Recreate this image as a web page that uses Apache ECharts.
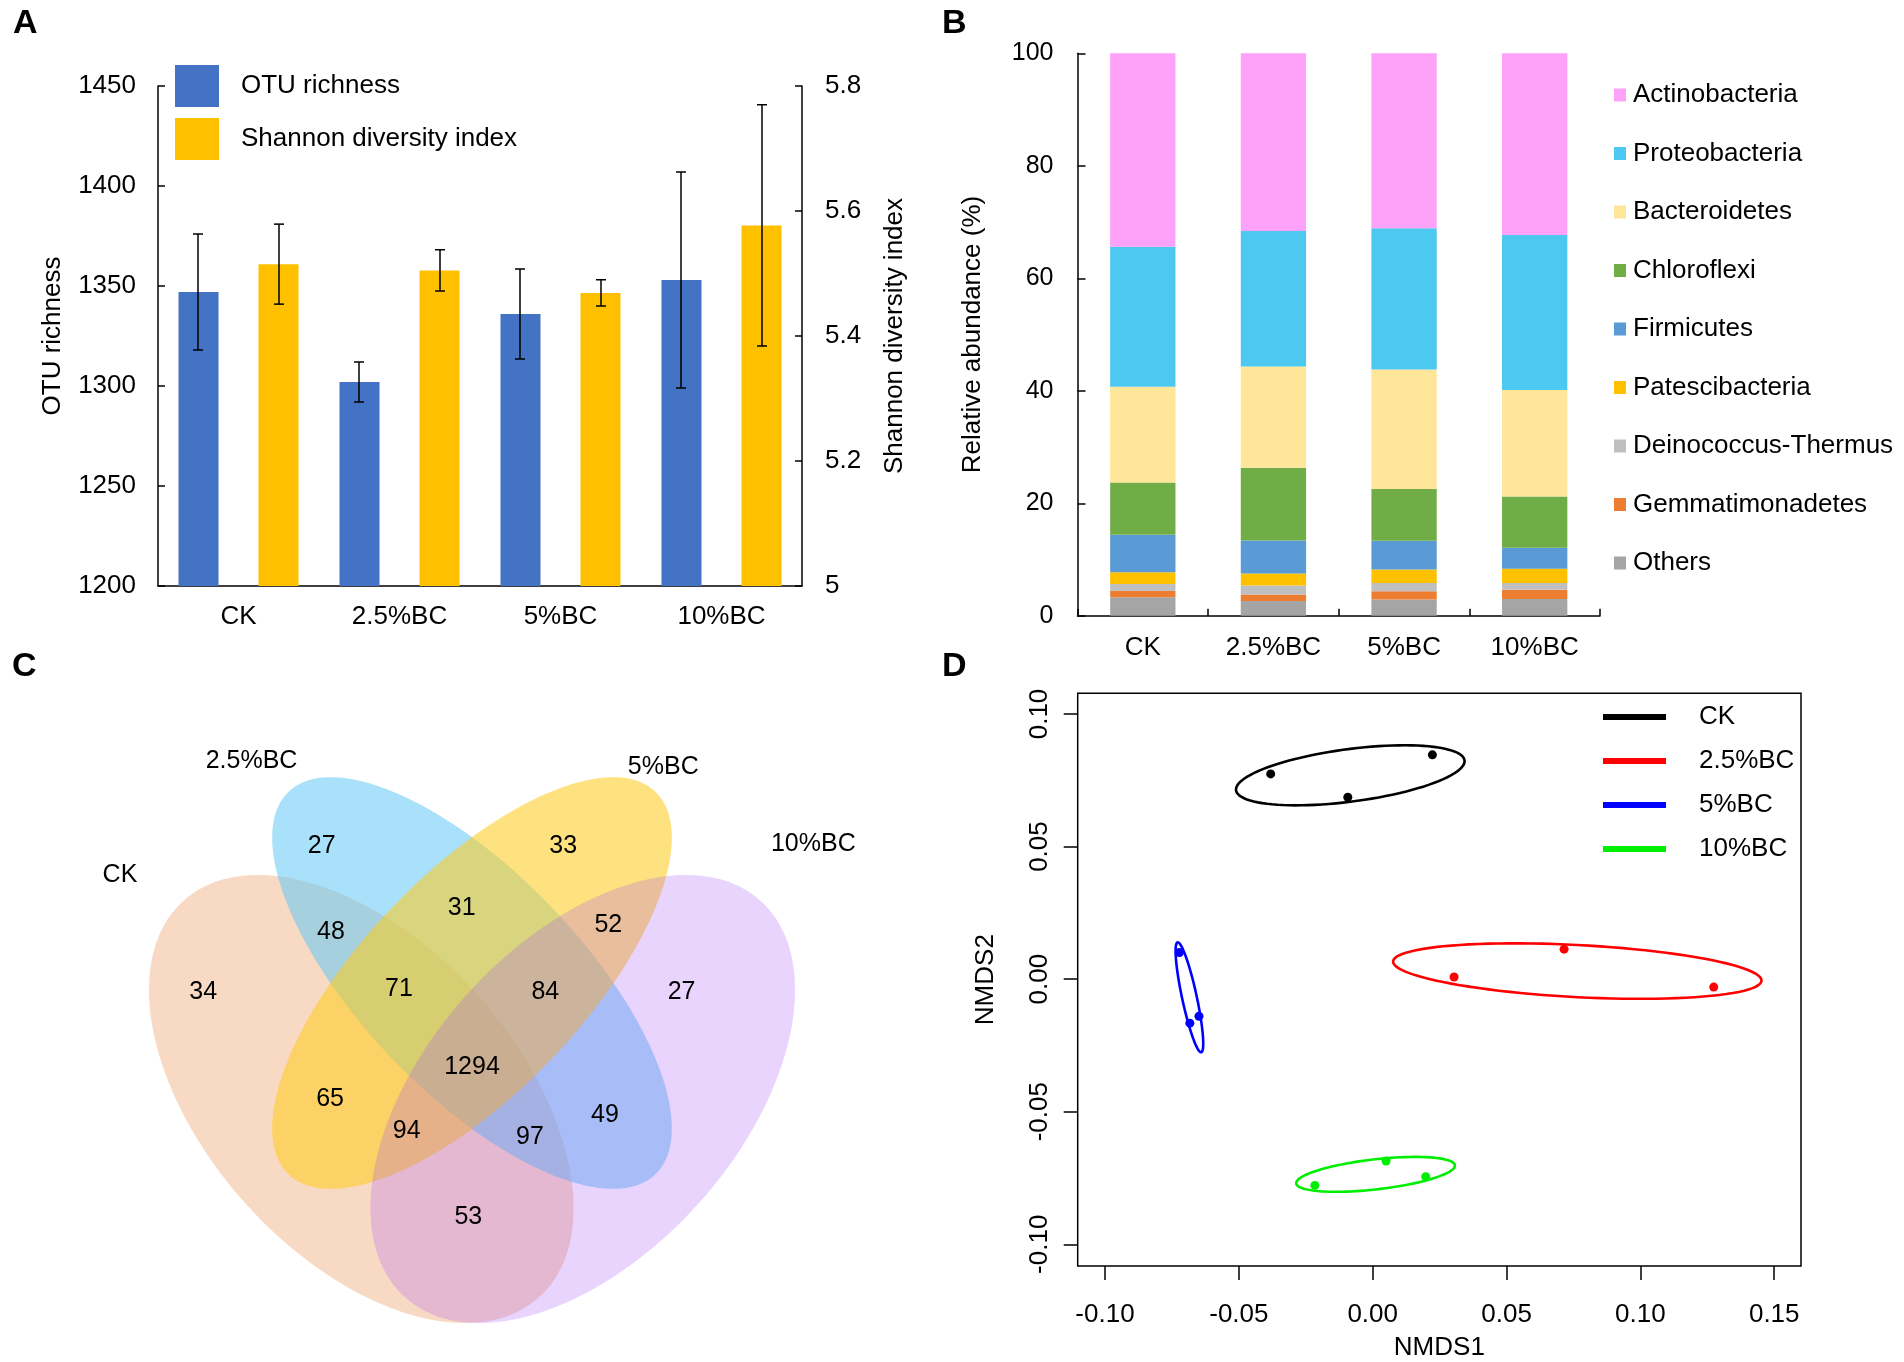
<!DOCTYPE html>
<html><head><meta charset="utf-8">
<script src="https://cdn.jsdelivr.net/npm/echarts@6/dist/echarts.min.js"></script>
<style>html,body{margin:0;padding:0;background:#fff}#c{width:1904px;height:1362px}</style>
</head><body><div id="c"></div>
<script>
// ---------- DATA ----------
const categories = ['CK', '2.5%BC', '5%BC', '10%BC'];
// Panel A
const otuMean = [1347, 1302, 1336, 1353];
const otuErr = [29, 10, 22.5, 54];
const shannonMean = [5.515, 5.505, 5.469, 5.577];
const shannonErr = [0.064, 0.033, 0.021, 0.193];
const otuTicks = [1200, 1450, 50];
const shannonTicks = [5, 5.8, 0.2];
// Panel B (relative abundance %, stacked bottom -> top)
const phyla = ['Others', 'Gemmatimonadetes', 'Deinococcus-Thermus', 'Patescibacteria', 'Firmicutes', 'Chloroflexi', 'Bacteroidetes', 'Proteobacteria', 'Actinobacteria'];
const others = [3.3, 2.65, 2.9, 3.0];
const gemmatimonadetes = [1.1, 1.15, 1.45, 1.65];
const deinococcus = [1.25, 1.6, 1.5, 1.2];
const patescibacteria = [2.1, 2.1, 2.4, 2.5];
const firmicutes = [6.65, 5.9, 5.1, 3.75];
const chloroflexi = [9.3, 12.9, 9.2, 9.1];
const bacteroidetes = [17.0, 18.0, 21.25, 18.95];
const proteobacteria = [24.9, 24.1, 25.1, 27.55];
const actinobacteria = [34.4, 31.6, 31.1, 32.3];
// Panel C (Venn counts)
const vennSets = ['CK', '2.5%BC', '5%BC', '10%BC'];
const vennRegions = ['CK', '2.5%BC', '5%BC', '10%BC', 'CK&2.5', '2.5&5', '5&10', 'CK&2.5&5', '2.5&5&10', 'all', 'CK&5', '2.5&10', 'CK&5&10', 'CK&2.5&10', 'CK&10'];
const vennCounts = [34, 27, 33, 27, 48, 31, 52, 71, 84, 1294, 65, 49, 94, 97, 53];
// Panel D (NMDS scores)
const nmdsGroups = ['CK', '2.5%BC', '5%BC', '10%BC'];
const nmdsCK = [[-0.0381, 0.0774], [-0.0093, 0.0686], [0.0223, 0.0846]];
const nmds25 = [[0.0304, 0.0008], [0.0715, 0.0113], [0.1274, -0.0030]];
const nmds5 = [[-0.0722, 0.0100], [-0.0683, -0.0166], [-0.0649, -0.0140]];
const nmds10 = [[-0.0216, -0.0778], [0.0050, -0.0686], [0.0198, -0.0745]];
const nmdsXTicks = [-0.10, -0.05, 0.00, 0.05, 0.10, 0.15];
const nmdsYTicks = [-0.10, -0.05, 0.00, 0.05, 0.10];

// ---------- LAYOUT / STYLE ----------
const FONT = "'Liberation Sans', Arial, sans-serif";
const phylaColors = ['#A5A5A5', '#ED7D31', '#BFBFBF', '#FFC000', '#5B9BD5', '#70AD47', '#FFE699', '#4DC8F0', '#FEA1F9'];
const phylaValues = [others, gemmatimonadetes, deinococcus, patescibacteria, firmicutes, chloroflexi, bacteroidetes, proteobacteria, actinobacteria];
const nmdsPoints = [nmdsCK, nmds25, nmds5, nmds10];
const nmdsColors = ['#000000', '#FF0000', '#0000FF', '#00EE00'];
// Venn geometry in a unit box (x: 0..1, y: 0..0.7895, y up)
const vennShapes = [
  {cx: 0.3543, cy: 0.3171, a: 0.3504, b: 0.2053, rot: 131.85},
  {cx: 0.5, cy: 0.4697, a: 0.3487, b: 0.1447, rot: 133.8},
  {cx: 0.5, cy: 0.4697, a: 0.3487, b: 0.1447, rot: 46.2},
  {cx: 0.6457, cy: 0.3171, a: 0.3504, b: 0.2053, rot: 48.15}
];
const vennFills = ['rgba(241,181,137,0.5)', 'rgba(94,198,245,0.53)', 'rgba(255,202,24,0.55)', 'rgba(163,83,243,0.25)'];
const vennCountPos = [[0.1464, 0.4583], [0.3022, 0.6504], [0.6200, 0.6500], [0.7757, 0.4575], [0.3145, 0.5364], [0.4864, 0.5680], [0.6794, 0.5461], [0.4039, 0.4614], [0.5965, 0.4579], [0.5, 0.3592], [0.3132, 0.3175], [0.6750, 0.2961], [0.4141, 0.2754], [0.5763, 0.2675], [0.4952, 0.1614]];
const vennSetPos = [[0.0368, 0.6118], [0.2099, 0.7618], [0.7517, 0.7543], [0.9491, 0.6526]];

const BAR_W = 40, BAR_OFF = 40.5;

function errRender(sign) {
  return function (params, api) {
    const x = api.value(0), lo = api.value(1), hi = api.value(2);
    const pLo = api.coord([x, lo]), pHi = api.coord([x, hi]);
    const cx = pLo[0] + sign * BAR_OFF;
    const cap = 5;
    const st = {stroke: '#000', lineWidth: 1.5};
    return {type: 'group', children: [
      {type: 'line', shape: {x1: cx, y1: pLo[1], x2: cx, y2: pHi[1]}, style: st},
      {type: 'line', shape: {x1: cx - cap, y1: pHi[1], x2: cx + cap, y2: pHi[1]}, style: st},
      {type: 'line', shape: {x1: cx - cap, y1: pLo[1], x2: cx + cap, y2: pLo[1]}, style: st}
    ]};
  };
}

function ellipseSeries(name, pts, color) {
  const n = pts.length;
  const mx = pts.reduce((s, p) => s + p[0], 0) / n;
  const my = pts.reduce((s, p) => s + p[1], 0) / n;
  let sxx = 0, syy = 0, sxy = 0;
  pts.forEach(p => { const dx = p[0] - mx, dy = p[1] - my; sxx += dx * dx; syy += dy * dy; sxy += dx * dy; });
  sxx /= (n - 1); syy /= (n - 1); sxy /= (n - 1);
  const k = Math.sqrt(5.991464547 / n); // 95% confidence ellipse of the centroid (se)
  const L11 = Math.sqrt(sxx), L21 = sxy / L11, L22 = Math.sqrt(Math.max(syy - L21 * L21, 0));
  return {
    type: 'custom', name: name, xAxisIndex: 2, yAxisIndex: 3, silent: true, z: 2,
    data: [[mx, my]],
    renderItem: function (params, api) {
      const poly = [];
      for (let i = 0; i < 100; i++) {
        const t = i / 100 * Math.PI * 2, u = Math.cos(t), v = Math.sin(t);
        poly.push(api.coord([mx + k * L11 * u, my + k * (L21 * u + L22 * v)]));
      }
      return {type: 'polygon', shape: {points: poly}, style: {fill: 'none', stroke: color, lineWidth: 2.6}};
    }
  };
}

function textRender(texts) {
  return function (params, api) {
    const p = api.coord([api.value(0), api.value(1)]);
    return {type: 'text', x: p[0], y: p[1], style: {text: String(texts[params.dataIndex]), fontSize: 25, fontFamily: FONT, fill: '#000', align: 'center', verticalAlign: 'middle'}};
  };
}

const axisBlack = {lineStyle: {color: '#000', width: 1.5}};
const lbl = (size, margin) => ({color: '#000', fontSize: size, fontFamily: FONT, margin: margin});

const series = [];
// Panel A
series.push({type: 'bar', name: 'OTU richness', xAxisIndex: 0, yAxisIndex: 0, data: otuMean, barWidth: BAR_W, barGap: '100%', itemStyle: {color: '#4472C4'}});
series.push({type: 'bar', name: 'Shannon diversity index', xAxisIndex: 0, yAxisIndex: 1, data: shannonMean, barWidth: BAR_W, barGap: '100%', itemStyle: {color: '#FFC000'}});
series.push({type: 'custom', name: 'otuErr', xAxisIndex: 0, yAxisIndex: 0, z: 5, silent: true,
  data: otuMean.map((m, i) => [i, m - otuErr[i], m + otuErr[i]]), renderItem: errRender(-1)});
series.push({type: 'custom', name: 'shErr', xAxisIndex: 0, yAxisIndex: 1, z: 5, silent: true,
  data: shannonMean.map((m, i) => [i, m - shannonErr[i], m + shannonErr[i]]), renderItem: errRender(1)});
// Panel B
phyla.forEach((p, i) => {
  series.push({type: 'bar', name: p, stack: 'phyla', xAxisIndex: 1, yAxisIndex: 2, barWidth: '50%', data: phylaValues[i], itemStyle: {color: phylaColors[i]}});
});
// Panel D
nmdsGroups.forEach((g, i) => {
  series.push(ellipseSeries(g, nmdsPoints[i], nmdsColors[i]));
  series.push({type: 'scatter', name: g, xAxisIndex: 2, yAxisIndex: 3, data: nmdsPoints[i], symbolSize: 9, itemStyle: {color: nmdsColors[i], opacity: 1}, z: 3});
});
// Panel C
series.push({type: 'custom', name: 'vennShapes', xAxisIndex: 3, yAxisIndex: 4, silent: true, z: 1,
  data: vennShapes.map(e => [e.cx, e.cy]),
  renderItem: function (params, api) {
    const e = vennShapes[params.dataIndex];
    const r = e.rot * Math.PI / 180, pts = [];
    for (let i = 0; i < 160; i++) {
      const t = i / 160 * Math.PI * 2, ux = e.a * Math.cos(t), uy = e.b * Math.sin(t);
      pts.push(api.coord([e.cx + ux * Math.cos(r) - uy * Math.sin(r), e.cy + ux * Math.sin(r) + uy * Math.cos(r)]));
    }
    return {type: 'polygon', shape: {points: pts}, style: {fill: vennFills[params.dataIndex]}};
  }});
series.push({type: 'custom', name: 'vennCounts', xAxisIndex: 3, yAxisIndex: 4, silent: true, z: 4,
  data: vennCountPos, renderItem: textRender(vennCounts)});
series.push({type: 'custom', name: 'vennSets', xAxisIndex: 3, yAxisIndex: 4, silent: true, z: 4,
  data: vennSetPos, renderItem: textRender(vennSets)});

const fmt1 = v => String(Number(v.toFixed(1)));
const fmtInt = v => String(Math.round(v));
const option = {
  animation: false,
  backgroundColor: '#fff',
  textStyle: {fontFamily: FONT, color: '#000'},
  title: [
    {text: 'A', left: 13, top: 7, padding: 0, textStyle: {fontSize: 34, fontWeight: 'bold', fontFamily: FONT, color: '#000'}},
    {text: 'B', left: 942, top: 7, padding: 0, textStyle: {fontSize: 34, fontWeight: 'bold', fontFamily: FONT, color: '#000'}},
    {text: 'C', left: 12, top: 650, padding: 0, textStyle: {fontSize: 34, fontWeight: 'bold', fontFamily: FONT, color: '#000'}},
    {text: 'D', left: 942, top: 650, padding: 0, textStyle: {fontSize: 34, fontWeight: 'bold', fontFamily: FONT, color: '#000'}}
  ],
  legend: [
    {data: ['OTU richness', 'Shannon diversity index'], left: 175, top: 65, orient: 'vertical', icon: 'rect',
      itemWidth: 44, itemHeight: 42, itemGap: 11, selectedMode: false, padding: 0,
      textStyle: {fontSize: 26, fontFamily: FONT, color: '#000', padding: [0, 0, 0, 17]}},
    {data: phyla.slice().reverse(), left: 1614, top: 82, orient: 'vertical', icon: 'rect',
      itemWidth: 12, itemHeight: 13, itemGap: 32.5, selectedMode: false, padding: 0,
      textStyle: {fontSize: 26, fontFamily: FONT, color: '#000', padding: [0, 0, 0, 2]}},
    {data: nmdsGroups.map((g, i) => ({name: g, icon: 'rect', itemStyle: {color: nmdsColors[i]}})),
      left: 1603, top: 704, orient: 'vertical', itemWidth: 63, itemHeight: 6, itemGap: 18, selectedMode: false, padding: 0,
      textStyle: {fontSize: 26, fontFamily: FONT, color: '#000', padding: [0, 0, 0, 28]}}
  ],
  grid: [
    {left: 158, top: 86, width: 644, height: 500},
    {left: 1077.5, top: 53.3, width: 522.5, height: 562.5},
    {left: 1077.7, top: 693.3, width: 723.3, height: 573.4, show: true, borderColor: '#000', borderWidth: 1.5, backgroundColor: 'transparent'},
    {left: 92, top: 740, width: 760, height: 600}
  ],
  xAxis: [
    {type: 'category', gridIndex: 0, data: categories, axisLine: axisBlack, axisTick: {show: false}, axisLabel: lbl(26, 18)},
    {type: 'category', gridIndex: 1, data: categories, axisLine: axisBlack,
      axisTick: {show: true, inside: true, length: 7, interval: 0, lineStyle: {color: '#000', width: 1.5}}, axisLabel: lbl(26, 19)},
    {type: 'value', gridIndex: 2, min: -0.1102, max: 0.16, axisLine: {show: false, onZero: false}, splitLine: {show: false},
      axisTick: {show: true, length: 14, customValues: nmdsXTicks, lineStyle: {color: '#000', width: 1.5}},
      axisLabel: Object.assign(lbl(26, 36), {customValues: nmdsXTicks, formatter: v => v.toFixed(2)}),
      name: 'NMDS1', nameLocation: 'middle', nameGap: 69, nameTextStyle: {fontSize: 26, fontFamily: FONT, color: '#000'}},
    {type: 'value', gridIndex: 3, min: 0, max: 1, show: false}
  ],
  yAxis: [
    {type: 'value', gridIndex: 0, min: otuTicks[0], max: otuTicks[1], interval: otuTicks[2], axisLine: Object.assign({show: true}, axisBlack),
      axisTick: {show: true, inside: true, length: 7, lineStyle: {color: '#000', width: 1.5}}, splitLine: {show: false},
      axisLabel: Object.assign(lbl(26, 22), {formatter: fmtInt}),
      name: 'OTU richness', nameLocation: 'middle', nameRotate: 90, nameGap: 92, nameTextStyle: {fontSize: 26, fontFamily: FONT, color: '#000'}},
    {type: 'value', gridIndex: 0, position: 'right', min: shannonTicks[0], max: shannonTicks[1], interval: shannonTicks[2],
      axisLine: Object.assign({show: true}, axisBlack),
      axisTick: {show: true, inside: true, length: 7, lineStyle: {color: '#000', width: 1.5}}, splitLine: {show: false},
      axisLabel: Object.assign(lbl(26, 23), {formatter: fmt1}),
      name: 'Shannon diversity index', nameLocation: 'middle', nameRotate: 90, nameGap: 80, nameTextStyle: {fontSize: 26, fontFamily: FONT, color: '#000'}},
    {type: 'value', gridIndex: 1, min: 0, max: 100, interval: 20, axisLine: Object.assign({show: true}, axisBlack),
      axisTick: {show: true, inside: true, length: 8, lineStyle: {color: '#000', width: 1.5}}, splitLine: {show: false},
      axisLabel: lbl(25, 24),
      name: 'Relative abundance (%)', nameLocation: 'middle', nameRotate: 90, nameGap: 92, nameTextStyle: {fontSize: 26, fontFamily: FONT, color: '#000'}},
    {type: 'value', gridIndex: 2, min: -0.1082, max: 0.1078, axisLine: {show: false, onZero: false}, splitLine: {show: false},
      axisTick: {show: true, length: 14, customValues: nmdsYTicks, lineStyle: {color: '#000', width: 1.5}},
      axisLabel: Object.assign(lbl(26, 25), {customValues: nmdsYTicks, rotate: 90, formatter: v => v.toFixed(2)}),
      name: 'NMDS2', nameLocation: 'middle', nameRotate: 90, nameGap: 79, nameTextStyle: {fontSize: 26, fontFamily: FONT, color: '#000'}},
    {type: 'value', gridIndex: 3, min: 0, max: 600 / 760, show: false}
  ],
  series: series
};

const chart = echarts.init(document.getElementById('c'), null, {renderer: 'canvas'});
chart.setOption(option);
</script></body></html>
